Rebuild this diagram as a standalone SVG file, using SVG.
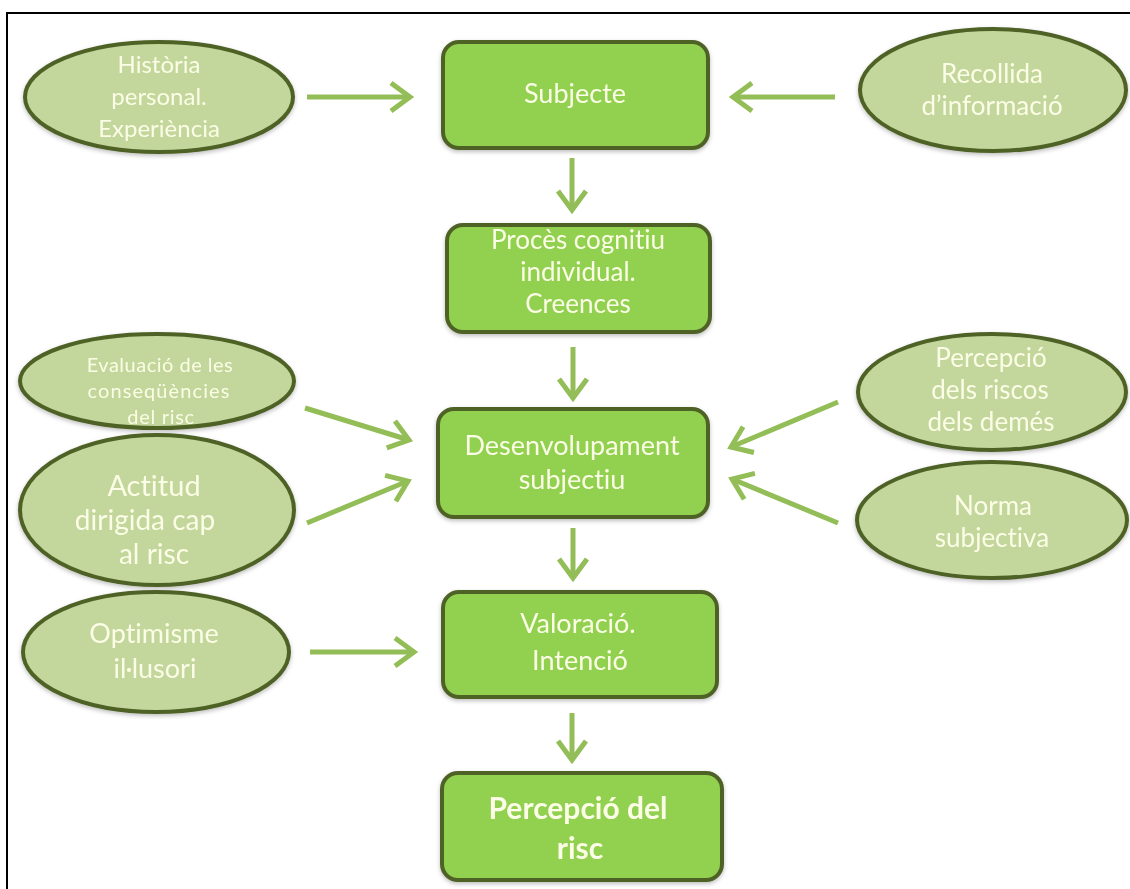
<svg xmlns="http://www.w3.org/2000/svg" width="1130" height="889" viewBox="0 0 1130 889">
<defs>
<style>
.box{fill:#92D050;stroke:#4F6228;stroke-width:4}
.ell{fill:#C3D69B;stroke:#4F6228;stroke-width:4}
.t{font-family:Lato,"Liberation Sans",sans-serif;fill:#FBFDE6;text-anchor:middle;font-variant-ligatures:none;font-feature-settings:"liga" 0,"clig" 0}
.bt{font-size:27px}
.arr{fill:none;stroke:#93BD57;stroke-width:5;marker-end:url(#ah)}
</style>
<marker id="ah" markerUnits="userSpaceOnUse" markerWidth="40" markerHeight="40" viewBox="-28 -20 34 40" refX="0" refY="0" orient="auto">
<path d="M-19,-14 L0,0 L-19,14" fill="none" stroke="#93BD57" stroke-width="5" stroke-linejoin="miter"/>
</marker>
<filter id="sh" x="-10%" y="-10%" width="120%" height="130%">
<feDropShadow dx="0" dy="2" stdDeviation="2" flood-color="#000" flood-opacity="0.25"/>
</filter>
</defs>
<rect x="0" y="0" width="1130" height="889" fill="#fff"/>
<rect x="7" y="13" width="1300" height="1000" fill="none" stroke="#000" stroke-width="2"/>

<g id="connectors">
<path class="arr" d="M307,97 L410,97"/>
<path class="arr" d="M835,97 L733,97"/>
<path class="arr" d="M572,158 L572,210"/>
<path class="arr" d="M573,347 L573,398"/>
<path class="arr" d="M573,528 L573,578"/>
<path class="arr" d="M572,713 L572,760"/>
<path class="arr" d="M305,408 L409,440"/>
<path class="arr" d="M307,523 L408,481"/>
<path class="arr" d="M838,402 L731,447"/>
<path class="arr" d="M838,523 L732,479"/>
<path class="arr" d="M310,652 L414,652"/>
</g>

<g id="n-subjecte" filter="url(#sh)">
<rect class="box" x="443" y="42" width="265" height="106" rx="16"/>
<text class="t bt" x="575" y="103">Subjecte</text>
</g>
<g id="n-proces" filter="url(#sh)">
<rect class="box" x="447" y="225" width="263" height="107" rx="16"/>
<text class="t" font-size="26" x="578" y="249">Procès cognitiu</text>
<text class="t" font-size="26" x="578" y="281">individual.</text>
<text class="t" font-size="26" x="578" y="313">Creences</text>
</g>
<g id="n-desenvolupament" filter="url(#sh)">
<rect class="box" x="438" y="409" width="270" height="108" rx="16"/>
<text class="t bt" x="572" y="455">Desenvolupament</text>
<text class="t bt" x="572" y="489">subjectiu</text>
</g>
<g id="n-valoracio" filter="url(#sh)">
<rect class="box" x="443" y="592" width="274" height="105" rx="16"/>
<text class="t bt" x="578" y="633">Valoració.</text>
<text class="t bt" x="580" y="670">Intenció</text>
</g>
<g id="n-percepcio-risc" filter="url(#sh)">
<rect class="box" x="442" y="773" width="280" height="107" rx="16"/>
<text class="t" x="578" y="819" font-size="30" font-weight="bold">Percepció del</text>
<text class="t" x="580" y="859" font-size="30" font-weight="bold">risc</text>
</g>

<g id="n-historia" filter="url(#sh)">
<ellipse class="ell" cx="159" cy="97" rx="134" ry="55"/>
<text class="t" x="159" y="73" font-size="24">Història</text>
<text class="t" x="159" y="105" font-size="24">personal.</text>
<text class="t" x="159" y="137" font-size="24">Experiència</text>
</g>
<g id="n-recollida" filter="url(#sh)">
<ellipse class="ell" cx="993" cy="90" rx="133" ry="61"/>
<text class="t" x="992" y="83" font-size="26">Recollida</text>
<text class="t" x="992" y="115" font-size="26">d’informació</text>
</g>
<g id="n-evaluacio" filter="url(#sh)">
<ellipse class="ell" cx="157" cy="381" rx="137" ry="47"/>
<text class="t" x="160" y="372" font-size="20" letter-spacing="0.5">Evaluació de les</text>
<text class="t" x="159" y="398" font-size="20" letter-spacing="1.1">conseqüències</text>
<text class="t" x="161" y="424" font-size="20" letter-spacing="0.7">del risc</text>
</g>
<g id="n-actitud" filter="url(#sh)">
<ellipse class="ell" cx="157" cy="510" rx="137" ry="75"/>
<text class="t" x="154" y="496" font-size="29">Actitud</text>
<text class="t" x="145" y="530" font-size="28">dirigida cap</text>
<text class="t" x="154" y="564" font-size="28">al risc</text>
</g>
<g id="n-optimisme" filter="url(#sh)">
<ellipse class="ell" cx="156" cy="652" rx="133" ry="60"/>
<text class="t" x="154" y="643" font-size="27">Optimisme</text>
<text class="t" x="155" y="678" font-size="27">il·lusori</text>
</g>
<g id="n-percepcio-demes" filter="url(#sh)">
<ellipse class="ell" cx="992" cy="392" rx="134" ry="58"/>
<text class="t" x="991" y="367" font-size="26">Percepció</text>
<text class="t" x="990" y="399" font-size="26">dels riscos</text>
<text class="t" x="991" y="431" font-size="26">dels demés</text>
</g>
<g id="n-norma" filter="url(#sh)">
<ellipse class="ell" cx="992" cy="520" rx="135" ry="58"/>
<text class="t" x="993" y="515" font-size="26">Norma</text>
<text class="t" x="992" y="547" font-size="26">subjectiva</text>
</g>
</svg>
